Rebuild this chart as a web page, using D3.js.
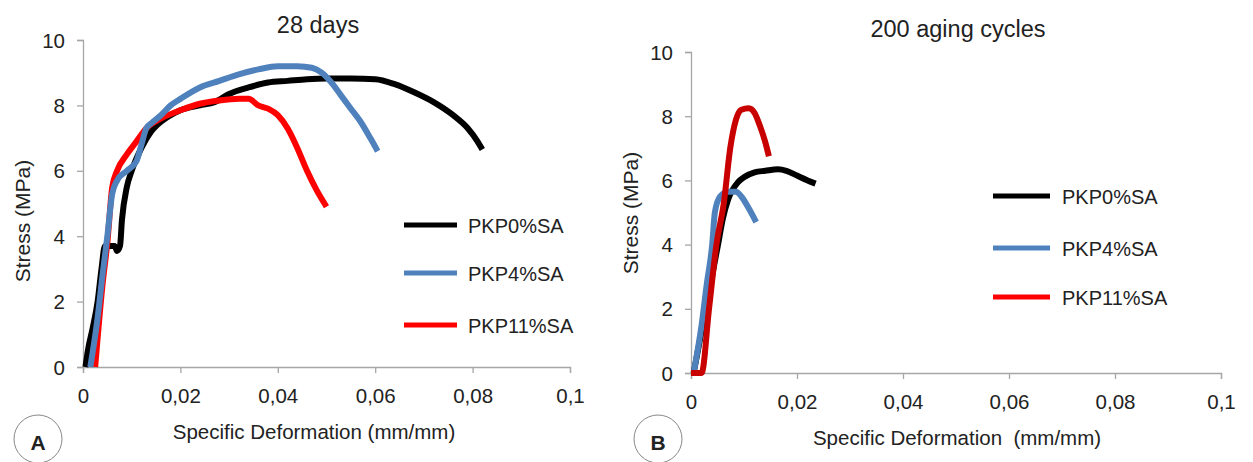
<!DOCTYPE html>
<html><head><meta charset="utf-8">
<script src="https://cdn.jsdelivr.net/npm/d3@7"></script>
<style>body{margin:0;background:#fff}svg{display:block}text{font-family:"Liberation Sans",Arial,sans-serif;fill:#222}</style>
</head><body>
<svg id="c" width="1253" height="462"></svg>
<script>
// ---------- DATA ----------
const seriesNames = ["PKP0%SA", "PKP4%SA", "PKP11%SA"];
const xTicks = [0, 0.02, 0.04, 0.06, 0.08, 0.1];
const yTicks = [0, 2, 4, 6, 8, 10];
const xTickLabels = ["0", "0,02", "0,04", "0,06", "0,08", "0,1"];
const panelTitles = ["28 days", "200 aging cycles"];
const xTitles = ["Specific Deformation (mm/mm)", "Specific Deformation  (mm/mm)"];
const yTitle = "Stress (MPa)";
const panelLetters = ["A", "B"];

// Panel A: 28 days  [strain, stress]
const a_PKP0 = [[0.0005,0],[0.001,0.5],[0.002,1.2],[0.003,2.0],[0.0038,3.0],[0.0045,3.7],[0.0065,3.7],[0.007,3.55],[0.0076,3.7],[0.008,4.5],[0.009,5.5],[0.010,6.0],[0.012,6.7],[0.014,7.2],[0.016,7.5],[0.018,7.7],[0.020,7.85],[0.024,8.0],[0.027,8.1],[0.030,8.35],[0.034,8.55],[0.038,8.7],[0.042,8.75],[0.046,8.8],[0.050,8.82],[0.055,8.82],[0.060,8.8],[0.064,8.65],[0.068,8.4],[0.072,8.1],[0.076,7.7],[0.079,7.3],[0.081,6.9],[0.082,6.65]];
const a_PKP4 = [[0.0015,0],[0.003,1.5],[0.004,2.8],[0.005,4.0],[0.006,5.3],[0.007,5.7],[0.009,6.0],[0.011,6.3],[0.012,6.8],[0.013,7.3],[0.014,7.45],[0.016,7.7],[0.018,8.0],[0.020,8.2],[0.024,8.55],[0.028,8.75],[0.032,8.95],[0.036,9.1],[0.040,9.2],[0.044,9.2],[0.047,9.15],[0.049,9.0],[0.051,8.7],[0.053,8.3],[0.055,7.9],[0.057,7.5],[0.059,7.0],[0.0605,6.6]];
const a_PKP11 = [[0.0025,0],[0.004,2.5],[0.005,3.8],[0.006,5.5],[0.007,6.0],[0.009,6.5],[0.011,6.9],[0.013,7.3],[0.016,7.6],[0.020,7.85],[0.024,8.05],[0.028,8.15],[0.032,8.2],[0.034,8.2],[0.036,8.0],[0.038,7.9],[0.040,7.7],[0.042,7.3],[0.044,6.7],[0.046,6.0],[0.048,5.4],[0.050,4.9]];

// Panel B: 200 aging cycles
const b_PKP0 = [[0.0005,0],[0.0028,2.0],[0.0051,4.0],[0.006,4.8],[0.007,5.4],[0.0089,5.95],[0.010,6.1],[0.012,6.25],[0.014,6.3],[0.0164,6.35],[0.018,6.3],[0.020,6.15],[0.022,6.0],[0.0235,5.9]];
const b_PKP4 = [[0.0005,0],[0.002,1.5],[0.003,2.8],[0.004,4.0],[0.0045,5.0],[0.0055,5.5],[0.007,5.65],[0.0085,5.65],[0.0095,5.5],[0.011,5.1],[0.0123,4.7]];
const b_PKP11 = [[0,0],[0.002,0],[0.0034,2.0],[0.0048,4.0],[0.0062,5.3],[0.0074,7.0],[0.0085,7.9],[0.0095,8.2],[0.0109,8.25],[0.012,8.1],[0.013,7.7],[0.014,7.2],[0.0147,6.75]];

// ---------- DRAW ----------
const svg = d3.select("#c");
const panels = [
  {left:83, right:570, top:40, bottom:367, titleX:318, titleY:33,
   xTitleX:314, xTitleY:439, yTitleX:30, yTitleY:221, letterX:38, letterY:439, data:[a_PKP0,a_PKP4,a_PKP11],
   colors:["#000000","#4f81bd","#ff0000"], legX:404, legY:[225,273,325], legLen:53, legTextX:468},
  {left:691, right:1221, top:52, bottom:373, titleX:958, titleY:37,
   xTitleX:957, xTitleY:445, yTitleX:638, yTitleY:213, letterX:658, letterY:439, data:[b_PKP0,b_PKP4,b_PKP11],
   colors:["#000000","#4f81bd","#c80000"], legX:993, legY:[196,248,297], legLen:57, legTextX:1062}
];
const legColors = ["#000000","#4f81bd","#ff0000"];

panels.forEach((p,pi) => {
  const x = d3.scaleLinear().domain([0,0.1]).range([p.left,p.right]);
  const y = d3.scaleLinear().domain([0,10]).range([p.bottom,p.top]);
  const g = svg.append("g");

  const xa = g.append("g").attr("transform",`translate(0,${p.bottom})`)
    .call(d3.axisBottom(x).tickValues(xTicks).tickFormat((d,i)=>xTickLabels[i]).tickSize(6).tickPadding(15));
  const ya = g.append("g").attr("transform",`translate(${p.left},0)`)
    .call(d3.axisLeft(y).tickValues(yTicks).tickSize(6).tickPadding(12));
  [xa,ya].forEach(a=>{
    a.select(".domain").attr("stroke","#a6a6a6").attr("stroke-width",1.3);
    a.selectAll(".tick line").attr("stroke","#a6a6a6").attr("stroke-width",1.3);
    a.selectAll(".tick text").style("font-size","20.5px").attr("fill","#222");
  });
  ya.selectAll(".tick text").attr("dy","0.35em");

  g.append("text").attr("x",p.titleX).attr("y",p.titleY).attr("text-anchor","middle")
    .style("font-size","23.5px").text(panelTitles[pi]);
  g.append("text").attr("x",p.xTitleX).attr("y",p.xTitleY).attr("text-anchor","middle")
    .style("font-size","20.5px").style("white-space","pre").text(xTitles[pi]);
  g.append("text").attr("transform",`translate(${p.yTitleX},${p.yTitleY}) rotate(-90)`)
    .attr("text-anchor","middle").style("font-size","21px").text(yTitle);

  const line = d3.line().x(d=>x(d[0])).y(d=>y(d[1])).curve(d3.curveMonotoneX);
  const order = pi===0 ? [0,2,1] : [0,1,2];
  order.forEach(i => {
    g.append("path").datum(p.data[i]).attr("d",line).attr("fill","none")
      .attr("stroke",p.colors[i]).attr("stroke-width",6).attr("stroke-linejoin","round").attr("stroke-linecap","butt");
  });

  seriesNames.forEach((n,i)=>{
    g.append("line").attr("x1",p.legX).attr("x2",p.legX+p.legLen).attr("y1",p.legY[i]).attr("y2",p.legY[i])
      .attr("stroke",legColors[i]).attr("stroke-width",5);
    g.append("text").attr("x",p.legTextX).attr("y",p.legY[i]+8).style("font-size","20px").text(n);
  });

  g.append("circle").attr("cx",p.letterX).attr("cy",p.letterY).attr("r",24)
    .attr("fill","#fff").attr("stroke","#888").attr("stroke-width",1);
  g.append("text").attr("x",p.letterX).attr("y",p.letterY+11).attr("text-anchor","middle")
    .style("font-size","21px").style("font-weight","bold").text(panelLetters[pi]);
});
</script>
</body></html>
